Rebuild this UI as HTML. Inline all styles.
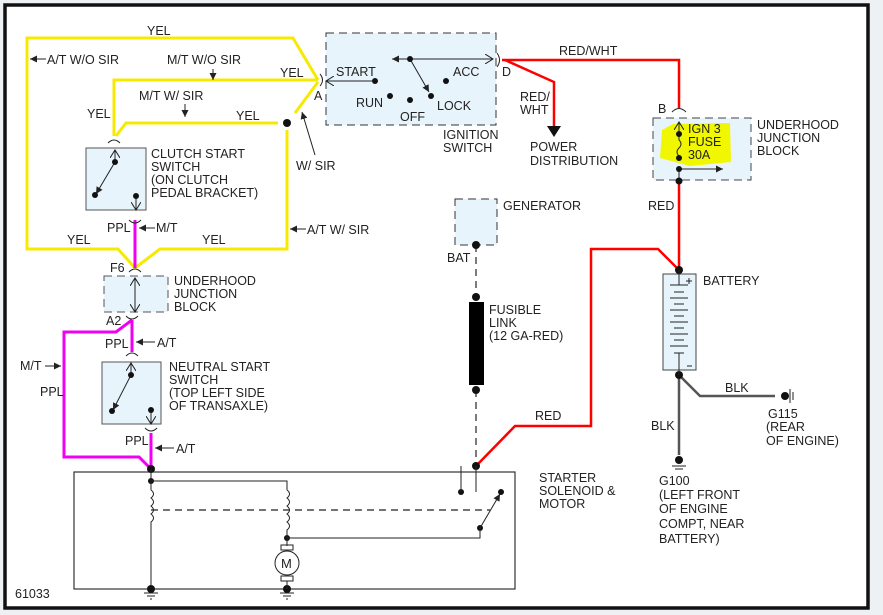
<!DOCTYPE html>
<html><head><meta charset="utf-8"><style>
html,body{margin:0;padding:0;background:#eef1f4;}
svg{display:block;font-family:"Liberation Sans",sans-serif;font-size:12.5px;}
text{fill:#222;}
</style></head><body>
<svg width="883" height="615" viewBox="0 0 883 615" xmlns="http://www.w3.org/2000/svg">
<defs>
<marker id="ar" markerWidth="8" markerHeight="8" refX="7" refY="4" orient="auto" markerUnits="userSpaceOnUse"><path d="M0,0.5 L7,4 L0,7.5 z" fill="#222"/></marker>
<marker id="ao" markerWidth="10" markerHeight="10" refX="8" refY="5" orient="auto" markerUnits="userSpaceOnUse"><path d="M0,0 L8,5 L0,10" fill="none" stroke="#222" stroke-width="1"/></marker>
</defs>
<rect x="5" y="5" width="863" height="603" fill="#fff" stroke="#111" stroke-width="3.5"/>

<rect x="326" y="33" width="170" height="92" fill="#e8f4fc" stroke="#333" stroke-dasharray="8,5"/>
<rect x="86" y="148" width="60" height="62" fill="#e8f4fc" stroke="#555"/>
<rect x="104" y="276" width="64" height="36" fill="#e8f4fc" stroke="#555" stroke-dasharray="8,5"/>
<rect x="102" y="362" width="59" height="62" fill="#e8f4fc" stroke="#555"/>
<rect x="74" y="472" width="441" height="117" fill="#fff" stroke="#333" stroke-width="1.2"/>
<rect x="455" y="199" width="42" height="46" fill="#e8f4fc" stroke="#333" stroke-dasharray="8,5"/>
<rect x="653" y="118" width="98" height="62" fill="#e8f4fc" stroke="#444" stroke-dasharray="8,5"/>
<polygon points="662,130 673,124 730,123 731,162 690,166 660,158" fill="#f0f700"/>
<rect x="663" y="274" width="33" height="96" fill="#e8f4fc" stroke="#444"/>

<g fill="none" stroke="#f7ea00" stroke-width="3">
<polyline points="318,80 293,38 27,38 27,249 118,249 135,268"/>
<polyline points="135,268 160,249 287,249 287,130"/>
<line x1="295" y1="113" x2="318" y2="82"/>
<polyline points="318,80 114,80 114,136"/>
<polyline points="278,123 126,123 116,136"/>
</g>
<g fill="none" stroke="#f000f0" stroke-width="3">
<line x1="135" y1="220" x2="135" y2="268"/>
<polyline points="132,320 132,352"/>
<polyline points="132,320 116,332 64,332 64,457 139,457 151,469"/>
<line x1="151" y1="433" x2="151" y2="469"/>
</g>
<g fill="none" stroke="#f00" stroke-width="2.5">
<polyline points="502,60 679,60 679,108"/>
<polyline points="505,60 554,82 554,126"/>
<line x1="679" y1="182" x2="679" y2="270"/>
<polyline points="476,466 515,426 591,426 591,249 658,249 679,270"/>
</g>
<polygon points="547,126 561,126 554,137" fill="#111"/>
<g fill="none" stroke="#555" stroke-width="2.5">
<line x1="679" y1="375" x2="679" y2="455"/>
<polyline points="679,375 700,396 775,396"/>
</g>
<g stroke="#222" stroke-width="1.2" stroke-dasharray="7,5" fill="none">
<line x1="476" y1="245" x2="476" y2="297"/>
<line x1="476" y1="390" x2="476" y2="466"/>
<line x1="151" y1="510" x2="490" y2="510"/>
</g>
<rect x="469" y="302" width="15" height="83" fill="#000"/>

<g stroke="#222" stroke-width="1" fill="none">
<line x1="410" y1="59" x2="392" y2="59" marker-end="url(#ar)"/>
<line x1="410" y1="59" x2="493" y2="59" marker-end="url(#ao)"/>
<line x1="410" y1="59" x2="429" y2="92" marker-end="url(#ar)"/>
<line x1="375" y1="81" x2="326" y2="81" marker-end="url(#ao)"/>
<path d="M320,74 q5,6 0,12"/>
<path d="M497,53 q5,7 0,14"/>
</g>
<g fill="#111">
<circle cx="410" cy="59" r="3"/><circle cx="375" cy="81" r="3"/><circle cx="446" cy="81" r="3"/>
<circle cx="390" cy="96" r="3"/><circle cx="410" cy="100" r="3"/><circle cx="431" cy="96" r="3"/>
</g>

<g stroke="#222" stroke-width="1" fill="none">
<path d="M108,143 q6,-6 12,0 M129,220 q6,6 12,0"/>
<line x1="115" y1="162" x2="115" y2="150" marker-end="url(#ao)"/>
<line x1="115" y1="162" x2="96" y2="194" marker-end="url(#ar)"/>
<line x1="136" y1="196" x2="136" y2="210" marker-end="url(#ao)"/>
<path d="M129,272 q6,-6 12,0"/>
<line x1="135" y1="312" x2="135" y2="278" marker-end="url(#ao)"/>
<line x1="135" y1="290" x2="135" y2="312" marker-end="url(#ao)"/>
<path d="M126,316 q6,6 12,0 M126,356 q6,-6 12,0"/>
<line x1="131" y1="375" x2="131" y2="363" marker-end="url(#ao)"/>
<line x1="131" y1="375" x2="113" y2="410" marker-end="url(#ar)"/>
<line x1="151" y1="410" x2="151" y2="424" marker-end="url(#ao)"/>
<path d="M145,428 q6,6 12,0"/>
</g>
<g fill="#111"><circle cx="115" cy="162" r="3"/><circle cx="95" cy="195" r="3"/><circle cx="136" cy="196" r="3"/>
<circle cx="131" cy="375" r="3"/><circle cx="112" cy="411" r="3"/><circle cx="151" cy="410" r="3"/>
<circle cx="287" cy="123" r="4"/></g>

<g stroke="#222" stroke-width="1" fill="none">
<path d="M672,112 q7,-7 14,0"/>
<line x1="679" y1="140" x2="679" y2="122" marker-end="url(#ao)"/>
<path d="M679,140 q4,4 0,8 q-4,4 0,8"/>
<line x1="679" y1="169" x2="679" y2="182"/>
<line x1="679" y1="169" x2="723" y2="169" marker-end="url(#ar)"/>
</g>
<g fill="#111"><circle cx="679" cy="134" r="3"/><circle cx="679" cy="158" r="3"/><circle cx="679" cy="169" r="3"/><circle cx="679" cy="181" r="3.5"/>
<circle cx="679" cy="270" r="4"/><circle cx="679" cy="375" r="4"/><circle cx="476" cy="245" r="4"/><circle cx="476" cy="297" r="4"/><circle cx="476" cy="390" r="4"/><circle cx="476" cy="466" r="4"/>
<circle cx="151" cy="469" r="4"/><circle cx="151" cy="481" r="3"/><circle cx="287" cy="538" r="3"/><circle cx="461" cy="492" r="3"/><circle cx="501" cy="492" r="3"/><circle cx="480" cy="528" r="3"/>
<circle cx="151" cy="589" r="4"/><circle cx="287" cy="589" r="4"/><circle cx="679" cy="460" r="4"/><circle cx="785" cy="396" r="4"/></g>
<g stroke="#222" stroke-width="1">
<line x1="679" y1="270" x2="679" y2="285"/><line x1="670" y1="285" x2="688" y2="285"/>
<line x1="674" y1="292" x2="684" y2="292"/><line x1="670" y1="298" x2="688" y2="298"/>
<line x1="674" y1="304" x2="684" y2="304"/><line x1="670" y1="310" x2="688" y2="310"/>
<line x1="674" y1="316" x2="684" y2="316"/><line x1="670" y1="322" x2="688" y2="322"/>
<line x1="674" y1="328" x2="684" y2="328"/><line x1="670" y1="334" x2="688" y2="334"/>
<line x1="674" y1="340" x2="684" y2="340"/><line x1="670" y1="346" x2="688" y2="346"/>
<line x1="674" y1="353" x2="684" y2="353"/><line x1="679" y1="353" x2="679" y2="375"/>
<line x1="686" y1="281" x2="692" y2="281"/><line x1="689" y1="278" x2="689" y2="284"/>
<line x1="687" y1="366" x2="692" y2="366"/>
<line x1="672" y1="466" x2="686" y2="466"/><line x1="675" y1="469" x2="683" y2="469"/>
<line x1="790" y1="389" x2="790" y2="403"/><line x1="793" y1="392" x2="793" y2="400"/>
<line x1="144" y1="593" x2="158" y2="593"/><line x1="147" y1="596" x2="155" y2="596"/><line x1="150" y1="599" x2="152" y2="599"/>
<line x1="280" y1="593" x2="294" y2="593"/><line x1="283" y1="596" x2="291" y2="596"/><line x1="286" y1="599" x2="288" y2="599"/>
</g>
<g stroke="#222" stroke-width="1" fill="none">
<polyline points="151,481 287,481 287,490"/>
<line x1="151" y1="469" x2="151" y2="490"/>
<path d="M151,490 q5,4 0,8 q5,4 0,8 q5,4 0,8 q5,4 0,8 v64"/>
<path d="M287,490 q5,4 0,8 q5,4 0,8 q5,4 0,8 q5,4 0,8 q5,4 0,8 v8 v8"/>
<polyline points="287,538 480,538 480,528"/>
<line x1="480" y1="528" x2="500" y2="494" marker-end="url(#ar)"/>
<line x1="461" y1="466" x2="461" y2="492"/>
<line x1="287" y1="538" x2="287" y2="545"/>
<rect x="281" y="545" width="12" height="5"/>
<circle cx="287" cy="563" r="12" fill="#fff"/>
<rect x="281" y="576" width="12" height="5"/>
<line x1="287" y1="581" x2="287" y2="589"/>
</g>
<line x1="476" y1="466" x2="476" y2="492" stroke="#222"/>
<text x="281" y="568" font-size="13">M</text>

<g stroke="#222" stroke-width="1">
<line x1="46" y1="59" x2="30" y2="59" marker-end="url(#ar)"/>
<line x1="213" y1="69" x2="213" y2="80" marker-end="url(#ar)"/>
<line x1="185" y1="104" x2="185" y2="117" marker-end="url(#ar)"/>
<line x1="315" y1="155" x2="302" y2="112" marker-end="url(#ar)"/>
<line x1="155" y1="228" x2="139" y2="228" marker-end="url(#ar)"/>
<line x1="306" y1="229" x2="290" y2="229" marker-end="url(#ar)"/>
<line x1="155" y1="342" x2="136" y2="342" marker-end="url(#ar)"/>
<line x1="45" y1="366" x2="61" y2="366" marker-end="url(#ar)"/>
<line x1="174" y1="448" x2="155" y2="448" marker-end="url(#ar)"/>
</g>

<text x="147" y="35">YEL</text>
<text x="47" y="64">A/T W/O SIR</text>
<text x="167" y="64">M/T W/O SIR</text>
<text x="280" y="77">YEL</text>
<text x="139" y="100">M/T W/ SIR</text>
<text x="87" y="118">YEL</text>
<text x="236" y="120">YEL</text>
<text x="314" y="100">A</text>
<text x="296" y="170">W/ SIR</text>
<text x="151" y="158">CLUTCH START</text>
<text x="151" y="171">SWITCH</text>
<text x="151" y="184">(ON CLUTCH</text>
<text x="151" y="197">PEDAL BRACKET)</text>
<text x="107" y="232">PPL</text>
<text x="156" y="232">M/T</text>
<text x="307" y="234">A/T W/ SIR</text>
<text x="67" y="244">YEL</text>
<text x="202" y="244">YEL</text>
<text x="110" y="272">F6</text>
<text x="174" y="285">UNDERHOOD</text>
<text x="174" y="298">JUNCTION</text>
<text x="174" y="311">BLOCK</text>
<text x="106" y="325">A2</text>
<text x="105" y="348">PPL</text>
<text x="157" y="347">A/T</text>
<text x="20" y="370">M/T</text>
<text x="40" y="396">PPL</text>
<text x="169" y="371">NEUTRAL START</text>
<text x="169" y="384">SWITCH</text>
<text x="169" y="397">(TOP LEFT SIDE</text>
<text x="169" y="410">OF TRANSAXLE)</text>
<text x="125" y="445">PPL</text>
<text x="176" y="453">A/T</text>
<text x="15" y="598">61033</text>
<text x="336" y="76">START</text>
<text x="453" y="76">ACC</text>
<text x="356" y="107">RUN</text>
<text x="400" y="121">OFF</text>
<text x="437" y="110">LOCK</text>
<text x="502" y="76">D</text>
<text x="443" y="139">IGNITION</text>
<text x="443" y="152">SWITCH</text>
<text x="559" y="55">RED/WHT</text>
<text x="520" y="101">RED/</text>
<text x="520" y="114">WHT</text>
<text x="530" y="151">POWER</text>
<text x="530" y="165">DISTRIBUTION</text>
<text x="658" y="113">B</text>
<text x="688" y="133">IGN 3</text>
<text x="688" y="146">FUSE</text>
<text x="688" y="159">30A</text>
<text x="757" y="129">UNDERHOOD</text>
<text x="757" y="142">JUNCTION</text>
<text x="757" y="155">BLOCK</text>
<text x="503" y="210">GENERATOR</text>
<text x="648" y="210">RED</text>
<text x="447" y="262">BAT</text>
<text x="703" y="285">BATTERY</text>
<text x="489" y="314">FUSIBLE</text>
<text x="489" y="327">LINK</text>
<text x="489" y="340">(12 GA-RED)</text>
<text x="725" y="392">BLK</text>
<text x="768" y="418">G115</text>
<text x="766" y="431">(REAR</text>
<text x="766" y="445">OF ENGINE)</text>
<text x="535" y="420">RED</text>
<text x="651" y="430">BLK</text>
<text x="539" y="482">STARTER</text>
<text x="539" y="495">SOLENOID &amp;</text>
<text x="539" y="508">MOTOR</text>
<text x="659" y="485">G100</text>
<text x="659" y="499">(LEFT FRONT</text>
<text x="659" y="513">OF ENGINE</text>
<text x="659" y="528">COMPT, NEAR</text>
<text x="659" y="543">BATTERY)</text>
</svg>
</body></html>
